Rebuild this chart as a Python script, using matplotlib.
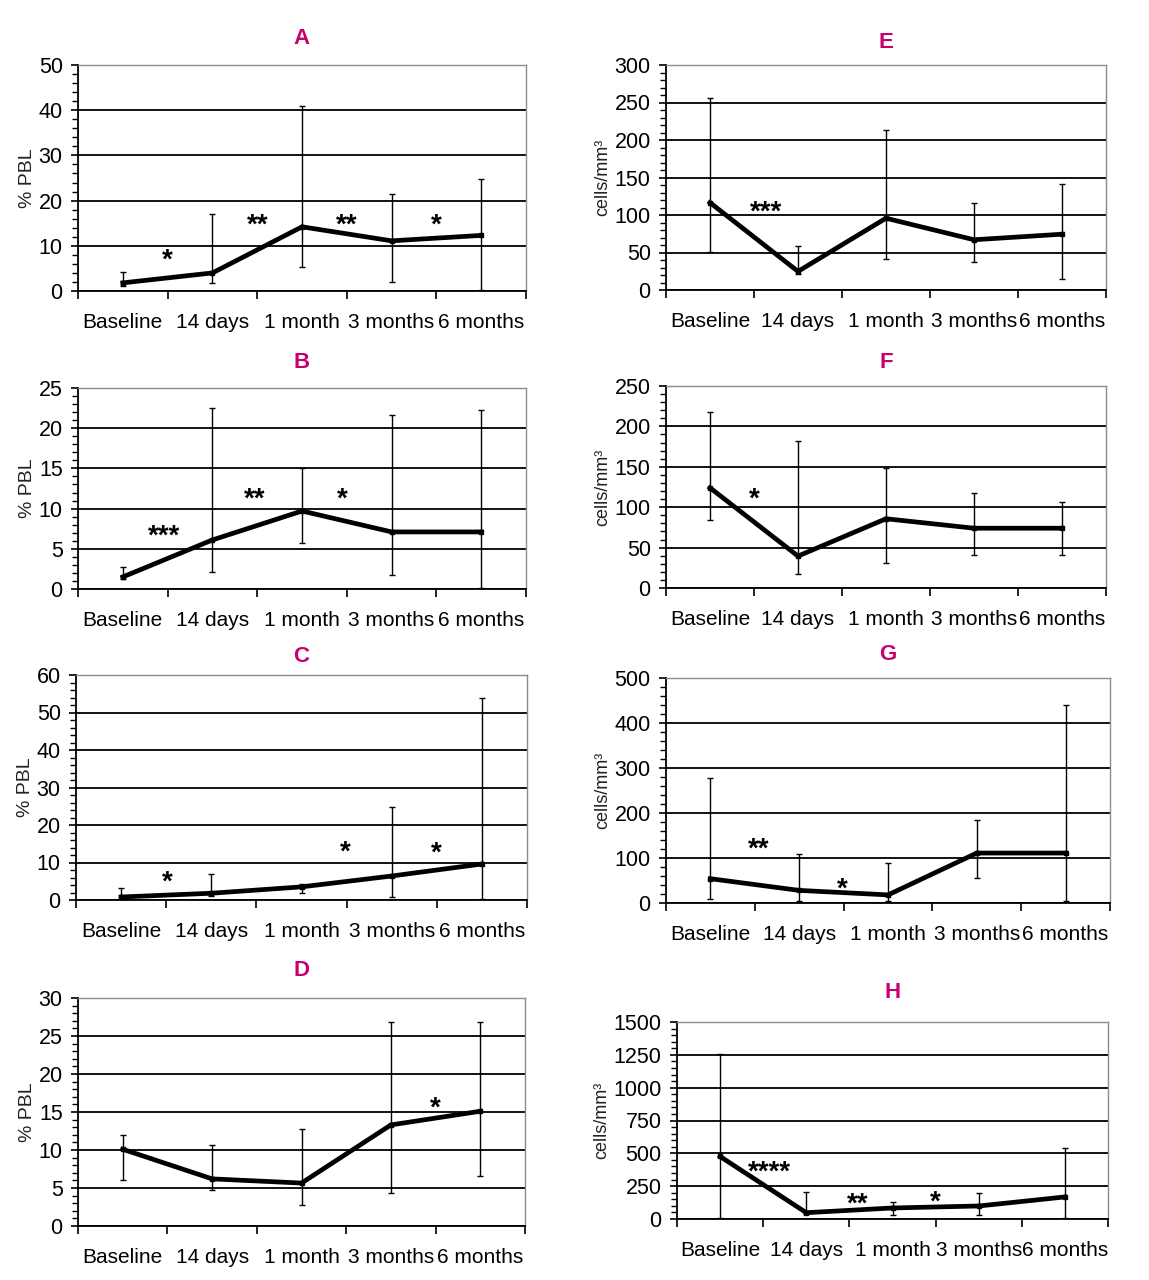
# -*- coding: utf-8 -*-
# %% IMPORT STATEMENTS
import numpy as np
import matplotlib
matplotlib.use('Agg')
import matplotlib.pyplot as plt
import matplotlib.transforms as mtransforms
from matplotlib.ticker import MultipleLocator, FixedLocator, NullFormatter

plt.rcParams['font.family'] = ['Liberation Sans', 'DejaVu Sans']

# %% DATA
categories = ['Baseline', '14 days', '1 month', '3 months', '6 months']

a_mean = [1.8, 4.0, 14.2, 11.1, 12.3]
a_low = [1.1, 1.8, 5.4, 2.0, 0.2]
a_high = [4.2, 17.0, 41.0, 21.5, 24.8]
a_stars = ['*', '**', '**', '*']
a_star_x = [0.5, 1.5, 2.5, 3.5]
a_star_y = [8.1, 15.8, 15.8, 15.8]

b_mean = [1.5, 6.1, 9.7, 7.1, 7.1]
b_low = [1.3, 2.1, 5.7, 1.8, 0.1]
b_high = [2.7, 22.5, 15.0, 21.6, 22.3]
b_stars = ['***', '**', '*']
b_star_x = [0.46, 1.47, 2.45]
b_star_y = [7.3, 11.9, 11.9]

c_mean = [0.8, 1.8, 3.5, 6.4, 9.6]
c_low = [0.35, 1.06, 1.8, 0.8, 0.2]
c_high = [3.3, 7.0, 4.4, 24.9, 53.9]
c_stars = ['*', '*', '*']
c_star_x = [0.51, 2.48, 3.49]
c_star_y = [6.4, 14.3, 13.9]

d_mean = [10.1, 6.2, 5.65, 13.3, 15.1]
d_low = [6.1, 4.8, 2.8, 4.3, 6.6]
d_high = [12.0, 10.7, 12.7, 26.9, 26.9]
d_stars = ['*']
d_star_x = [3.5]
d_star_y = [16.3]

e_mean = [116.5, 24.8, 95.7, 67.0, 74.4]
e_low = [51.0, 21.0, 41.0, 36.8, 14.6]
e_high = [256.0, 58.5, 212.7, 116.5, 141.8]
e_stars = ['***']
e_star_x = [0.64]
e_star_y = [112.0]

f_mean = [124.0, 39.5, 85.7, 74.0, 74.0]
f_low = [84.4, 17.9, 31.2, 40.8, 40.8]
f_high = [218.4, 181.4, 148.0, 117.7, 106.5]
f_stars = ['*']
f_star_x = [0.5]
f_star_y = [117.7]

g_mean = [54.0, 28.0, 18.0, 111.0, 111.0]
g_low = [10.0, 4.0, 4.0, 56.5, 4.0]
g_high = [277.0, 108.5, 89.4, 184.8, 440.0]
g_stars = ['**', '*']
g_star_x = [0.54, 1.48]
g_star_y = [133.0, 44.0]

h_mean = [476.0, 48.0, 84.0, 99.0, 168.0]
h_low = [5.0, 40.0, 28.0, 28.0, 5.0]
h_high = [1260.0, 209.0, 132.0, 196.0, 537.0]
h_stars = ['****', '**', '*']
h_star_x = [0.57, 1.59, 2.5]
h_star_y = [400.0, 158.0, 171.0]

# %% LAYOUT (pixels)
W, H = 1149, 1280
TITLE_COL = '#c8006e'


def draw_panel(fig, box, letter, title_y, mean, low, high, ymax, ystep,
               ylabel, ylabel_size, star_x, star_y, stars):
    left, right, top, bottom = box
    ax = fig.add_axes([left / W, 1 - bottom / H, (right - left) / W,
                       (bottom - top) / H])
    x = np.arange(len(categories))
    mean = np.array(mean)
    yerr = [mean - np.array(low), np.array(high) - mean]

    ax.errorbar(x, mean, yerr=yerr, fmt='none', ecolor='black',
                elinewidth=1.0, capsize=2, capthick=1.0, zorder=3)
    ax.plot(x, mean, color='black', lw=3.4, marker='s', ms=3,
            solid_joinstyle='miter', zorder=4)

    # shift the asterisks down a little, the glyph sits high in its box
    star_tr = mtransforms.offset_copy(ax.transData, fig=fig, x=0, y=-4.5,
                                      units='points')
    for sx, sy, s in zip(star_x, star_y, stars):
        ax.text(sx, sy, s, ha='center', va='center', fontsize=20,
                fontweight='bold', transform=star_tr, zorder=5)

    ax.set_xlim(-0.5, len(categories) - 0.5)
    ax.set_ylim(0, ymax)

    ax.xaxis.set_major_locator(FixedLocator(np.arange(-0.5, len(categories))))
    ax.xaxis.set_major_formatter(NullFormatter())
    ax.xaxis.set_minor_locator(FixedLocator(x))
    ax.set_xticklabels(categories, minor=True)
    ax.tick_params(axis='x', which='major', direction='out', length=6,
                   width=1.2)
    ax.tick_params(axis='x', which='minor', length=0, pad=16, labelsize=15)

    ax.yaxis.set_major_locator(MultipleLocator(ystep))
    ax.yaxis.set_minor_locator(MultipleLocator(ystep / 5))
    ax.tick_params(axis='y', which='major', direction='out', length=5,
                   width=1.2, pad=6, labelsize=15.5)
    ax.tick_params(axis='y', which='minor', direction='out', length=4,
                   width=1.0)

    ax.yaxis.grid(True, which='major', color='black', lw=1.3)
    ax.set_axisbelow(True)

    for side in ['left', 'bottom']:
        ax.spines[side].set_linewidth(1.3)
        ax.spines[side].set_color('black')
    for side in ['top', 'right']:
        ax.spines[side].set_linewidth(1.0)
        ax.spines[side].set_color('#8c8c8c')

    ax.set_ylabel(ylabel, fontsize=ylabel_size, labelpad=2, color='#222222')

    fig.text((left + right) / 2 / W, 1 - title_y / H, letter,
             color=TITLE_COL, fontsize=16, fontweight='bold',
             ha='center', va='center')
    return ax


# %% MAIN
def main():
    fig = plt.figure(figsize=(W / 100, H / 100), dpi=100)

    pbl = '% PBL'
    cells = 'cells/mm³'

    draw_panel(fig, (78, 526, 65, 291), 'A', 38, a_mean, a_low, a_high,
               50, 10, pbl, 14, a_star_x, a_star_y, a_stars)
    draw_panel(fig, (78, 526, 388, 589), 'B', 362, b_mean, b_low, b_high,
               25, 5, pbl, 14, b_star_x, b_star_y, b_stars)
    draw_panel(fig, (76, 527, 675, 900), 'C', 656, c_mean, c_low, c_high,
               60, 10, pbl, 14, c_star_x, c_star_y, c_stars)
    draw_panel(fig, (78, 525, 998, 1226), 'D', 971, d_mean, d_low, d_high,
               30, 5, pbl, 14, d_star_x, d_star_y, d_stars)
    draw_panel(fig, (666, 1106, 65, 290), 'E', 43, e_mean, e_low, e_high,
               300, 50, cells, 13, e_star_x, e_star_y, e_stars)
    draw_panel(fig, (666, 1106, 386, 588), 'F', 362, f_mean, f_low, f_high,
               250, 50, cells, 13, f_star_x, f_star_y, f_stars)
    draw_panel(fig, (666, 1110, 678, 903), 'G', 654, g_mean, g_low, g_high,
               500, 100, cells, 13, g_star_x, g_star_y, g_stars)
    draw_panel(fig, (677, 1108, 1022, 1219), 'H', 992, h_mean, h_low, h_high,
               1500, 250, cells, 13, h_star_x, h_star_y, h_stars)

    fig.savefig('out.png', dpi=100, facecolor='white')


if __name__ == "__main__":
    main()
